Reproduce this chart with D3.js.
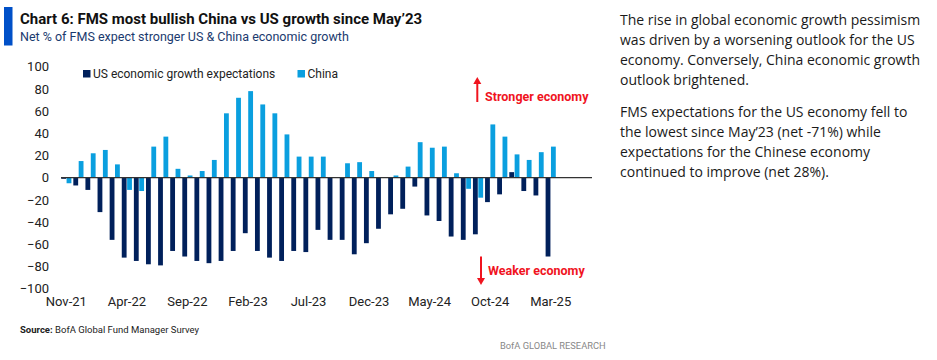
<!DOCTYPE html>
<html>
<head>
<meta charset="utf-8">
<script src="https://cdn.jsdelivr.net/npm/d3@7/dist/d3.min.js"></script>
<style>
  body { margin: 0; background: #fff; }
  svg { display: block; }
</style>
</head>
<body>
<script>
// ---------- data ----------
const months = ["Nov-21","Dec-21","Jan-22","Feb-22","Mar-22","Apr-22","May-22","Jun-22","Jul-22","Aug-22",
  "Sep-22","Oct-22","Nov-22","Dec-22","Jan-23","Feb-23","Mar-23","Apr-23","May-23","Jun-23",
  "Jul-23","Aug-23","Sep-23","Oct-23","Nov-23","Dec-23","Jan-24","Feb-24","Mar-24","Apr-24",
  "May-24","Jun-24","Jul-24","Aug-24","Sep-24","Oct-24","Nov-24","Dec-24","Jan-25","Feb-25","Mar-25"];
const usValues = [-1,-7,-11,-31,-56,-72,-75,-78,-79,-66,-71,-75,-77,-75,-66,-50,-66,-72,-75,-66,
  -67,-47,-56,-56,-69,-59,-46,-33,-28,-8,-34,-39,-53,-56,-51,-22,-15,5,-12,-16,-71];
const chinaValues = [-5,15,22,25,12,-11,-12,28,37,8,2,6,16,58,72,78,66,58,39,19,
  19,19,0,13,14,6,0,2,10,32,27,28,4,-10,-18,48,37,21,16,23,28];
const xTickLabels = ["Nov-21","Apr-22","Sep-22","Feb-23","Jul-23","Dec-23","May-24","Oct-24","Mar-25"];
const yTickValues = [-100,-80,-60,-40,-20,0,20,40,60,80,100];
const seriesNames = ["US economic growth expectations","China"];
const seriesKeys = ["us","cn"];
const colors = {us:"#00205B", cn:"#0A9FDF"};

const rows = months.map((m,i)=>({month:m, us:usValues[i], cn:chinaValues[i]}));

const W = 937, H = 360;
const chartFont = "Roboto, sans-serif";
const svg = d3.select("body").append("svg").attr("width", W).attr("height", H);

// ---------- header ----------
svg.append("rect").attr("x",4).attr("y",7).attr("width",8.5).attr("height",38.5).attr("fill","#0050C8");
svg.append("text").attr("x",20).attr("y",23.5)
  .attr("font-family",chartFont).attr("font-weight","bold").attr("font-size",15).attr("fill","#111")
  .text("Chart 6: FMS most bullish China vs US growth since May\u201923");
svg.append("text").attr("x",20).attr("y",40.5)
  .attr("font-family",chartFont).attr("font-size",12.5).attr("fill","#1a3a6e")
  .text("Net % of FMS expect stronger US & China economic growth");

// ---------- scales ----------
const x = d3.scaleBand().domain(months).range([60.25, 556.75]).paddingInner(0.16).paddingOuter(0.08);
const x1 = d3.scaleBand().domain(seriesKeys).range([0, x.bandwidth()]).paddingInner(0.1);
const y = d3.scaleLinear().domain([-100,100]).range([288.7, 66.7]);

// ---------- bars ----------
const g = svg.append("g");
g.selectAll("g.grp").data(rows).join("g").attr("class","grp")
  .attr("transform", d=>`translate(${x(d.month)},0)`)
  .selectAll("rect").data(d=>seriesKeys.map(k=>({k, v:d[k]})).filter(e=>e.v!==0))
  .join("rect")
  .attr("x", e=>x1(e.k)).attr("width", x1.bandwidth())
  .attr("y", e=>y(Math.max(0,e.v))).attr("height", e=>Math.abs(y(e.v)-y(0)))
  .attr("fill", e=>colors[e.k]);

// zero line
svg.append("line").attr("x1",61).attr("x2",592).attr("y1",y(0)).attr("y2",y(0))
  .attr("stroke","#333").attr("stroke-width",1.3);

// ---------- axes ----------
const yAxis = d3.axisLeft(y).tickValues(yTickValues).tickSize(0).tickPadding(0);
const ya = svg.append("g").attr("transform","translate(49,0)").call(yAxis);
ya.select(".domain").remove();
ya.selectAll("text").attr("font-family",chartFont).attr("font-size",13).attr("fill","#222");

const xAxis = d3.axisBottom(x).tickValues(xTickLabels).tickSize(0).tickPadding(0);
const xa = svg.append("g").attr("transform","translate(0,297)").call(xAxis);
xa.select(".domain").remove();
xa.selectAll("text").attr("font-family",chartFont).attr("font-size",13).attr("fill","#222");

// ---------- legend ----------
const legendX = [83, 297.5];
const leg = svg.append("g");
seriesKeys.forEach((k,i)=>{
  leg.append("rect").attr("x",legendX[i]).attr("y",70).attr("width",7.5).attr("height",7.5).attr("fill",colors[k]);
  leg.append("text").attr("x",legendX[i]+10).attr("y",78)
    .attr("font-family",chartFont).attr("font-size",12).attr("fill","#222").text(seriesNames[i]);
});

// ---------- annotations ----------
const red = "#F0141E";
function arrow(xc, yTail, yHead) {
  const dir = yHead < yTail ? 1 : -1;
  svg.append("line").attr("x1",xc).attr("x2",xc).attr("y1",yTail).attr("y2",yHead + dir*6)
    .attr("stroke",red).attr("stroke-width",2);
  svg.append("path").attr("d",`M${xc-4},${yHead+dir*7} L${xc+4},${yHead+dir*7} L${xc},${yHead} Z`).attr("fill",red);
}
arrow(477.3, 102, 77);
svg.append("text").attr("x",485).attr("y",101).attr("font-family",chartFont).attr("font-weight","bold")
  .attr("font-size",12.5).attr("fill",red).text("Stronger economy");
arrow(481, 256.5, 285);
svg.append("text").attr("x",488).attr("y",275).attr("font-family",chartFont).attr("font-weight","bold")
  .attr("font-size",12.5).attr("fill",red).text("Weaker economy");

// ---------- source ----------
const src = svg.append("text").attr("x",20).attr("y",333).attr("font-family",chartFont).attr("font-size",9.5).attr("fill","#222");
src.append("tspan").attr("font-weight","bold").text("Source: ");
src.append("tspan").text("BofA Global Fund Manager Survey");
svg.append("text").attr("x",500).attr("y",349).attr("font-family",chartFont).attr("font-size",9.3).attr("fill","#888")
  .text("BofA GLOBAL RESEARCH");

// ---------- right commentary ----------
const para1 = ["The rise in global economic growth pessimism","was driven by a worsening outlook for the US",
  "economy. Conversely, China economic growth","outlook brightened."];
const para2 = ["FMS expectations for the US economy fell to","the lowest since May\u201923 (net -71%) while",
  "expectations for the Chinese economy","continued to improve (net 28%)."];
const rt = svg.append("g").attr("font-family","'Open Sans', 'Noto Sans', sans-serif").attr("font-size",14).attr("fill","#1a1a1a");
para1.forEach((t,i)=>rt.append("text").attr("x",620).attr("y",25+i*20).text(t));
para2.forEach((t,i)=>rt.append("text").attr("x",620).attr("y",117+i*20).text(t));
</script>
</body>
</html>
